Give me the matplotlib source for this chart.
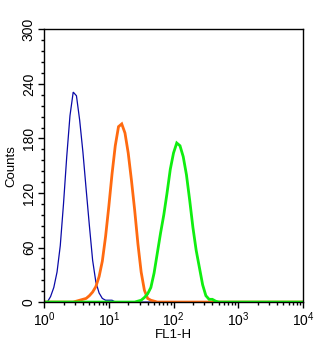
import numpy as np
import matplotlib.pyplot as plt
from matplotlib.ticker import MultipleLocator, LogLocator, NullFormatter

plt.rcParams['font.family'] = ['Liberation Sans', 'DejaVu Sans']

# histogram counts read every 0.05 decade of FL1-H
step = 0.05

blue_start = 0.0
blue_counts = [0, 0, 6, 16, 33, 62, 108, 160, 205, 231, 227, 200, 165, 124,
               84, 46, 22, 10, 4, 2, 2, 2, 0, 0]

orange_start = 0.45
orange_counts = [0, 1, 2, 3, 4, 7, 11, 17, 28, 45, 72, 105, 141, 172, 193, 196,
                 186, 164, 134, 101, 64, 33, 13, 4, 2, 1, 0]

green_start = 1.40
green_counts = [0, 1, 2, 5, 9, 16, 32, 54, 76, 96, 120, 146, 164, 175, 172, 160,
                140, 112, 82, 57, 38, 19, 7, 3, 3, 1, 0]

series = [
    (blue_start, blue_counts, '#0a0aa8', 0.9),
    (orange_start, orange_counts, '#ff6a10', 2.0),
    (green_start, green_counts, '#10ee10', 2.0),
]

fig = plt.figure(figsize=(3.34, 3.5), dpi=100)
ax = fig.add_axes([0.132, 0.137, 0.775, 0.779])

for start, counts, color, lw in series:
    dec = start + step * np.arange(len(counts))
    # extend along the baseline over the full scale
    dec = np.concatenate([[0.0], dec, [4.0]])
    y = np.concatenate([[0], counts, [0]])
    ax.plot(10 ** dec, y, color=color, lw=lw, solid_joinstyle='miter')

ax.set_xscale('log')
ax.set_xlim(1, 1e4)
ax.set_ylim(0, 300)

ax.yaxis.set_major_locator(MultipleLocator(60))
ax.yaxis.set_minor_locator(MultipleLocator(12))
ax.xaxis.set_major_locator(LogLocator(base=10, numticks=10))
ax.xaxis.set_minor_locator(LogLocator(base=10, subs=np.arange(2, 10), numticks=10))
ax.xaxis.set_minor_formatter(NullFormatter())

ax.tick_params(which='major', direction='out', length=4, width=1, labelsize=10, pad=2)
ax.tick_params(which='minor', direction='out', length=2.5, width=1)
for lab in ax.get_yticklabels():
    lab.set_rotation(90)
    lab.set_va('center')

for s in ax.spines.values():
    s.set_linewidth(1)

ax.set_xlabel('FL1-H', fontsize=9.5, labelpad=0)
ax.set_ylabel('Counts', fontsize=9.5, labelpad=3)

fig.savefig('out.png', dpi=100)
